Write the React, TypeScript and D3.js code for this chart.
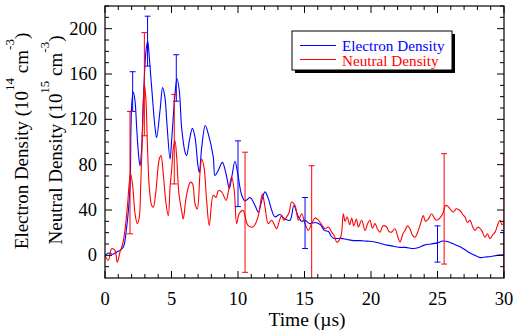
import React from "react";
import * as d3 from "d3";

// Electron density (10^14 cm^-3) vs time (µs)
const electronTime = [0, 0.3, 0.6, 0.9, 1.13, 1.38, 1.63, 1.88, 1.95, 2.02, 2.13, 2.26, 2.38, 2.5, 2.63, 2.76, 2.88, 3.08, 3.21, 3.33, 3.51, 3.76, 3.88, 4.14, 4.33, 4.51, 4.64, 4.89, 5.01, 5.26, 5.41, 5.59, 5.76, 6.02, 6.14, 6.34, 6.57, 6.77, 6.97, 7.09, 7.27, 7.54, 7.77, 8.14, 8.27, 8.52, 8.82, 9.1, 9.35, 9.53, 9.77, 9.98, 10.28, 10.53, 10.9, 11.28, 11.53, 11.78, 12.03, 12.28, 12.53, 12.78, 13.16, 13.53, 13.91, 14.2, 14.5, 14.8, 15.04, 15.4, 15.8, 16.2, 16.5, 16.8, 17.0, 17.2, 17.7, 18.2, 18.7, 19.2, 19.7, 20.2, 20.7, 21.2, 21.7, 22.2, 22.6, 23.2, 23.6, 24.0, 24.5, 25.0, 25.4, 25.8, 26.3, 26.8, 27.3, 27.8, 28.2, 28.6, 29.0, 29.5, 30];
const electronValue = [0, 2, 1, 3, 4.4, 7.3, 25, 60, 110, 135, 144, 136, 113, 92, 79, 95, 136, 180, 189, 175, 148, 113, 104, 128, 148, 139, 119, 85, 101, 142, 156, 145, 113, 91, 88, 101, 112, 104, 81, 73, 95, 114.5, 107, 87, 70.5, 75, 82, 72, 59, 69, 83, 72, 53, 48, 51, 44, 38, 48, 56, 50, 40, 34, 36, 32, 31, 44, 35, 30, 31, 28, 29, 27, 22, 21, 17, 15, 15, 14, 13, 13, 12.5, 12, 10.5, 9, 8, 7, 7, 6, 7, 9, 10, 11, 12.6, 12, 9.5, 7, 3, 0, -2, -1.5, -1, 0, 0.5];

// Neutral density (10^15 cm^-3) vs time (µs)
const neutralTime = [0, 0.25, 0.5, 0.75, 0.92, 1.13, 1.33, 1.5, 1.7, 1.83, 1.93, 2.08, 2.26, 2.43, 2.58, 2.68, 2.83, 2.96, 3.08, 3.18, 3.33, 3.51, 3.63, 3.83, 4.08, 4.21, 4.38, 4.59, 4.76, 4.89, 5.01, 5.14, 5.26, 5.39, 5.56, 5.76, 5.88, 6.07, 6.26, 6.44, 6.59, 6.77, 6.94, 7.14, 7.27, 7.44, 7.64, 7.84, 8.14, 8.35, 8.52, 8.77, 9.1, 9.27, 9.52, 9.72, 9.9, 10.1, 10.38, 10.75, 11.13, 11.5, 11.83, 12.03, 12.28, 12.53, 12.9, 13.1, 13.28, 13.45, 13.65, 13.85, 14.03, 14.29, 14.54, 14.79, 15.04, 15.29, 15.54, 15.8, 16.04, 16.3, 16.54, 16.8, 17.04, 17.25, 17.42, 17.72, 17.92, 18.05, 18.2, 18.4, 18.55, 18.7, 18.9, 19.05, 19.3, 19.55, 19.75, 19.92, 20.1, 20.3, 20.5, 20.68, 20.9, 21.18, 21.35, 21.55, 21.8, 22.0, 22.18, 22.4, 22.56, 22.75, 22.93, 23.1, 23.31, 23.56, 23.75, 23.93, 24.1, 24.31, 24.56, 24.75, 24.94, 25.19, 25.44, 25.6, 25.81, 26.0, 26.19, 26.4, 26.69, 26.9, 27.07, 27.25, 27.44, 27.65, 27.82, 28.05, 28.32, 28.57, 28.75, 28.95, 29.15, 29.33, 29.5, 29.7, 29.85, 30];
const neutralValue = [0, -4.4, 5.9, 4.4, -6, 3, 10, 22, 45.5, 64.6, 72, 61.7, 36.7, 28, 33.7, 60, 113, 151, 136.6, 101, 60, 44, 42.5, 57, 85, 88, 72, 45.5, 35, 60, 75, 95, 101, 86.6, 54, 39.6, 32, 48.5, 60, 64.6, 63, 45.5, 41, 72, 85, 78, 48.5, 26.4, 53, 51, 57, 56, 48.5, 56, 69, 57, 28, 37, 39.6, 26.4, 25, 33.7, 54, 42.5, 28, 31, 23.5, 30, 35, 31, 33.7, 38, 47, 44, 31, 36.7, 28, 22, 28, 33, 31, 27, 23.5, 25, 20.5, 17, 11.7, 16, 36.7, 30, 34, 27, 33, 26, 32, 25, 31, 22, 28, 31, 24, 28, 23, 20.5, 26, 25, 21, 20.5, 23.5, 17, 11.7, 19, 22, 26, 23.5, 18, 16, 22, 29, 35, 30, 32, 36.7, 33, 31, 33, 38, 44, 43, 40, 38, 41, 39.6, 36, 33.7, 29, 31, 25, 22, 25, 22, 16, 19, 14.7, 18, 20.5, 26, 31, 27, 29];

// Error bars
const electronErrTime = [2.08, 3.2, 5.36, 10.0, 15.04, 25.0, 30];
const electronErrMid = [144.5, 189, 156.5, 72, 28.5, 10, 0];
const electronErrHalf = [17.5, 22, 20.5, 29, 22.5, 16, 22];

const neutralErrTime = [1.88, 2.96, 5.21, 10.53, 15.54, 25.5, 30];
const neutralErrMid = [73, 151, 102.5, 38, 29, 41, 29];
const neutralErrHalf = [54, 45.5, 39.5, 53, 50, 48.7, 60.6];

const xTickLabels = [0, 5, 10, 15, 20, 25, 30];
const yTickLabels = [0, 40, 80, 120, 160, 200];

const BLUE = "#0000ff";
const RED = "#ff0000";
const FONT = "Liberation Serif, Times New Roman, Times, DejaVu Serif, serif";

export default function App() {
  const W = 515, H = 331;
  const L = 105, R = 504, T = 6, B = 278;
  const x = d3.scaleLinear().domain([0, 30]).range([L, R]);
  const y = d3.scaleLinear().domain([-20, 220]).range([B, T]);

  const line = d3.line<[number, number]>().x(d => x(d[0])).y(d => y(d[1])).curve(d3.curveCatmullRom.alpha(0.5));
  const ePath = line(electronTime.map((t, i) => [t, electronValue[i]] as [number, number])) || "";
  const nPath = line(neutralTime.map((t, i) => [t, neutralValue[i]] as [number, number])) || "";

  const xMinor = d3.range(0, 31, 1);
  const yMinor = d3.range(-10, 221, 10);
  const ts = { fontFamily: FONT };

  const errBars = (tt: number[], mids: number[], halfs: number[], color: string) =>
    tt.map((t, i) => {
      const cx = x(t);
      const y1 = y(mids[i] + halfs[i]);
      const y2 = y(mids[i] - halfs[i]);
      return (
        <g key={color + i} stroke={color} strokeWidth={1}>
          <line x1={cx} x2={cx} y1={y1} y2={y2} />
          <line x1={cx - 3} x2={cx + 3} y1={y1} y2={y1} />
          <line x1={cx - 3} x2={cx + 3} y1={y2} y2={y2} />
        </g>
      );
    });

  return (
    <svg width={W} height={H} style={{ position: "absolute", left: 0, top: 0, background: "#fff", fontFamily: FONT }}>
      <defs>
        <clipPath id="plotclip">
          <rect x={L} y={T} width={R - L} height={B - T} />
        </clipPath>
      </defs>
      <rect x={0} y={0} width={W} height={H} fill="#fff" />
      <g clipPath="url(#plotclip)" fill="none">
        <path d={ePath} stroke={BLUE} strokeWidth={1.1} />
        <path d={nPath} stroke={RED} strokeWidth={1.1} />
        {errBars(electronErrTime, electronErrMid, electronErrHalf, BLUE)}
        {errBars(neutralErrTime, neutralErrMid, neutralErrHalf, RED)}
      </g>
      <rect x={L} y={T} width={R - L} height={B - T} fill="none" stroke="#000" strokeWidth={1.2} />
      {xMinor.map(t => {
        const len = t % 5 === 0 ? 7 : 4;
        return (
          <g key={"xt" + t} stroke="#000" strokeWidth={1}>
            <line x1={x(t)} x2={x(t)} y1={B} y2={B - len} />
            <line x1={x(t)} x2={x(t)} y1={T} y2={T + len} />
          </g>
        );
      })}
      {yMinor.map(v => {
        const len = v % 40 === 0 ? 7 : 4;
        return (
          <g key={"yt" + v} stroke="#000" strokeWidth={1}>
            <line x1={L} x2={L + len} y1={y(v)} y2={y(v)} />
            <line x1={R} x2={R - len} y1={y(v)} y2={y(v)} />
          </g>
        );
      })}
      {xTickLabels.map(t => (
        <text key={"xl" + t} x={x(t)} y={305} fontSize={18.5} textAnchor="middle" fill="#000" style={ts}>{t}</text>
      ))}
      {yTickLabels.map(v => (
        <text key={"yl" + v} x={97} y={y(v) + 6} fontSize={18.5} textAnchor="end" fill="#000" style={ts}>{v}</text>
      ))}
      <text x={307} y={326} fontSize={19.5} textAnchor="middle" fill="#000" style={ts}>Time (µs)</text>
      <text transform="translate(28,141) rotate(-90)" fontSize={19} textAnchor="middle" fill="#000" style={ts}>
        Electron Density (10<tspan fontSize={13} dy={-14}>14</tspan>
        <tspan dy={14}> cm</tspan>
        <tspan fontSize={13} dy={-14}>-3</tspan>
        <tspan dy={14}>)</tspan>
      </text>
      <text transform="translate(62,140) rotate(-90)" fontSize={19} textAnchor="middle" fill="#000" style={ts}>
        Neutral Density (10<tspan fontSize={13} dy={-13}>15</tspan>
        <tspan dy={13}> cm</tspan>
        <tspan fontSize={13} dy={-13}>-3</tspan>
        <tspan dy={13}>)</tspan>
      </text>
      <rect x={295} y={34} width={160} height={39} fill="#000" />
      <rect x={292} y={31} width={160} height={39} fill="#fff" stroke="#000" strokeWidth={1} />
      <line x1={300} x2={336} y1={45.5} y2={45.5} stroke={BLUE} strokeWidth={1.1} />
      <line x1={300} x2={336} y1={59.5} y2={59.5} stroke={RED} strokeWidth={1.1} />
      <text x={342} y={50.5} fontSize={15.2} fill={BLUE} style={ts}>Electron Density</text>
      <text x={342} y={65.5} fontSize={15.2} fill={RED} style={ts}>Neutral Density</text>
    </svg>
  );
}
